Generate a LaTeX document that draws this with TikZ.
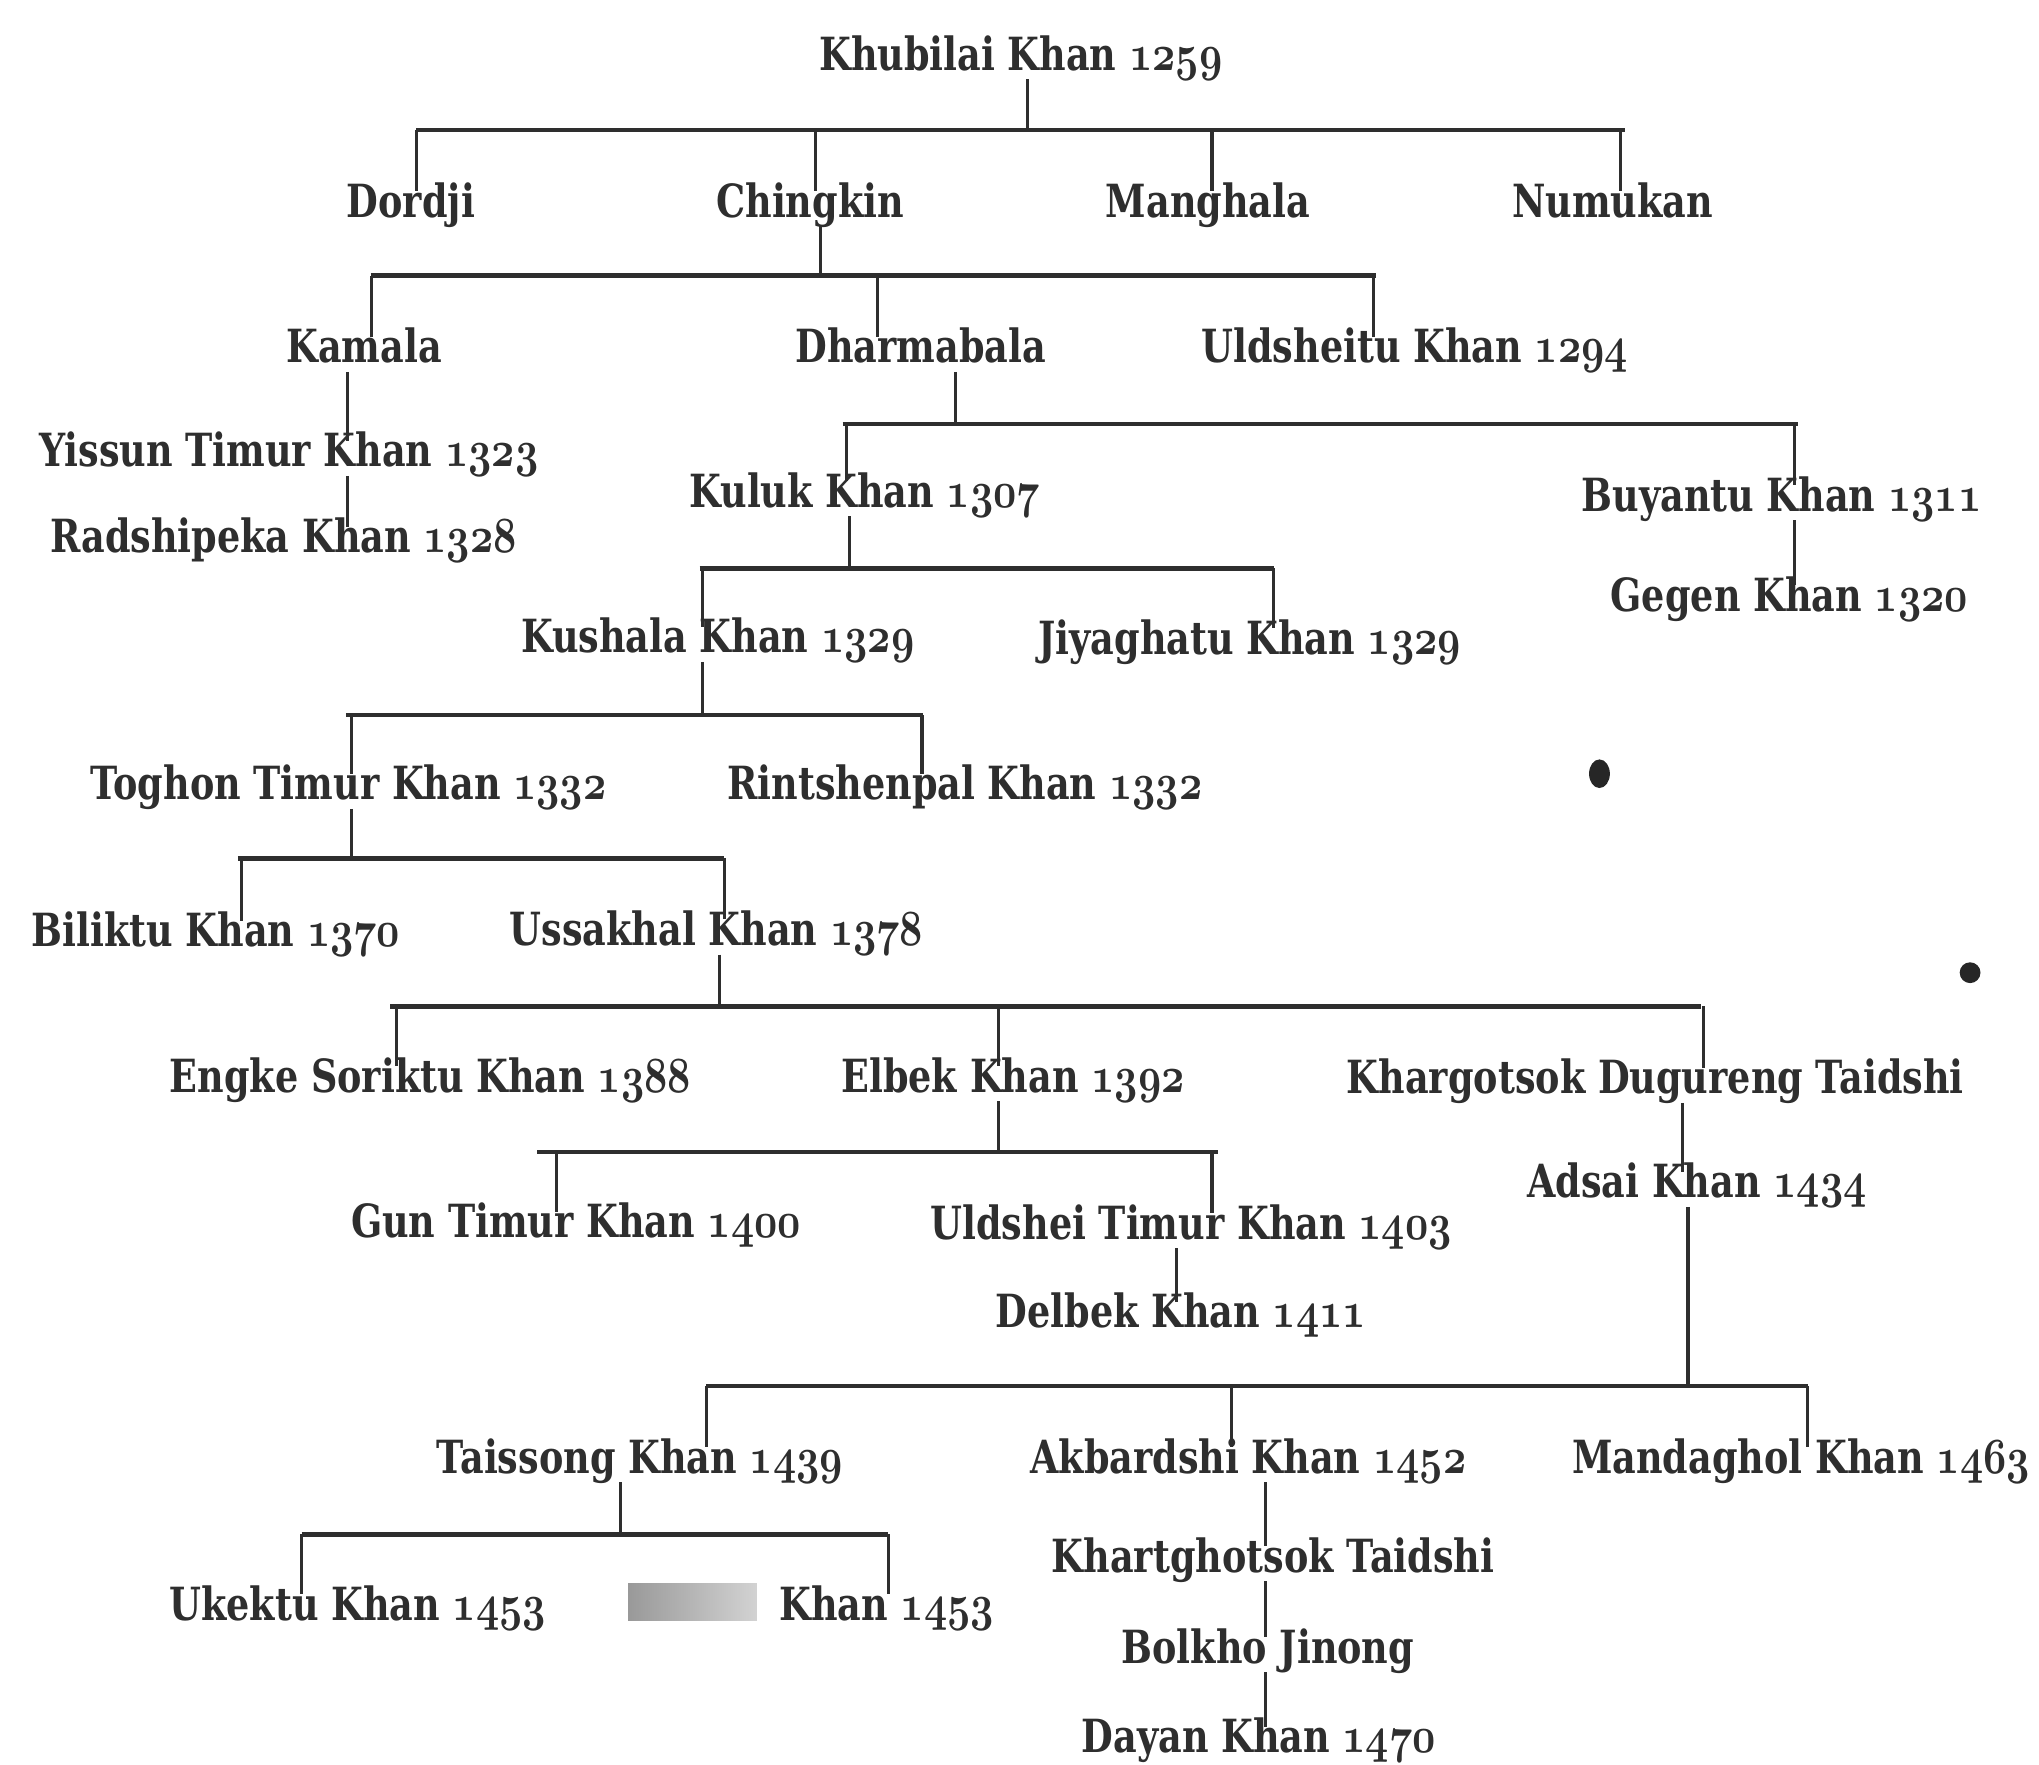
\documentclass[tikz,border=0pt]{standalone}
\usepackage{graphicx}
\usepackage{fontspec}
\setmainfont{DejaVu Serif}
\definecolor{ink}{HTML}{2E2E2E}
\newcommand{\hs}{0.8}
\newcommand{\nm}[1]{\scalebox{\hs}[1]{#1}}
\newcommand{\yr}[1]{{\usefont{OML}{cmm}{b}{it}\fontsize{15.5}{16}\selectfont #1}}
\begin{document}
\begin{tikzpicture}[x=0.013cm,y=-0.013cm,
  person/.style={anchor=base,inner sep=0pt,text=ink,font=\fontsize{13}{15}\selectfont\bfseries,
    text height=0.72em,text depth=0.24em},
  bar/.style={draw=ink,line width=1.3pt},
  tick/.style={draw=ink,line width=0.9pt}]
\useasboundingbox (0,0) rectangle (1568,1357);
% ---------- nodes ----------
\node[person] (kh)  at (785,54)   {\nm{Khubilai Khan \yr{1259}}};
\node[person] (dor) at (316,167)  {\nm{Dordji}};
\node[person] (chi) at (623,167)  {\nm{Chingkin}};
\node[person] (man) at (929,167)  {\nm{Manghala}};
\node[person] (num) at (1240,167) {\nm{Numukan}};
\node[person] (kam) at (280,279)  {\nm{Kamala}};
\node[person] (dha) at (708,279)  {\nm{Dharmabala}};
\node[person] (uld) at (1088,279) {\nm{Uldsheitu Khan \yr{1294}}};
\node[person] (yis) at (222,359)  {\nm{Yissun Timur Khan \yr{1323}}};
\node[person] (rad) at (218,425)  {\nm{Radshipeka Khan \yr{1328}}};
\node[person] (kul) at (665,390)  {\nm{Kuluk Khan \yr{1307}}};
\node[person] (buy) at (1370,393) {\nm{Buyantu Khan \yr{1311}}};
\node[person] (geg) at (1376,470) {\nm{Gegen Khan \yr{1320}}};
\node[person] (kus) at (552,502)  {\nm{Kushala Khan \yr{1329}}};
\node[person] (jiy) at (961,503)  {\nm{Jiyaghatu Khan \yr{1329}}};
\node[person] (tog) at (268,615)  {\nm{Toghon Timur Khan \yr{1332}}};
\node[person] (rin) at (742,615)  {\nm{Rintshenpal Khan \yr{1332}}};
\node[person] (bil) at (166,728)  {\nm{Biliktu Khan \yr{1370}}};
\node[person] (uss) at (551,727)  {\nm{Ussakhal Khan \yr{1378}}};
\node[person] (eng) at (331,840)  {\nm{Engke Soriktu Khan \yr{1388}}};
\node[person] (elb) at (779,840)  {\nm{Elbek Khan \yr{1392}}};
\node[person] (khg) at (1273,841) {\nm{Khargotsok Dugureng Taidshi}};
\node[person] (gun) at (443,952)  {\nm{Gun Timur Khan \yr{1400}}};
\node[person] (uls) at (916,953)  {\nm{Uldshei Timur Khan \yr{1403}}};
\node[person] (del) at (908,1021) {\nm{Delbek Khan \yr{1411}}};
\node[person] (ads) at (1305,921) {\nm{Adsai Khan \yr{1434}}};
\node[person] (tai) at (492,1133) {\nm{Taissong Khan \yr{1439}}};
\node[person] (akb) at (960,1133) {\nm{Akbardshi Khan \yr{1452}}};
\node[person] (mnd) at (1385,1133){\nm{Mandaghol Khan \yr{1463}}};
\node[person] (ukk) at (275,1246) {\nm{Ukektu Khan \yr{1453}}};
\node[person] (kh2) at (682,1246) {\nm{Khan \yr{1453}}};
\node[person] (ktg) at (979,1209) {\nm{Khartghotsok Taidshi}};
\node[person] (bol) at (975,1279) {\nm{Bolkho Jinong}};
\node[person] (day) at (968,1348) {\nm{Dayan Khan \yr{1470}}};
% obscured name
\shade[left color=gray!80,right color=gray!35] (483,1218) rectangle (582,1246);
% ink spots
\fill[black!85] (1230,595) ellipse (8 and 11);
\fill[black!85] (1515,748) ellipse (8 and 8);
% ---------- coordinates ----------
% bar ends
\coordinate (b0l) at (320,100);  \coordinate (b0r) at (1250,100);
\coordinate (b1l) at (285,212);  \coordinate (b1r) at (1058,212);
\coordinate (b2l) at (648,326);  \coordinate (b2r) at (1383,326);
\coordinate (b3l) at (538,437);  \coordinate (b3r) at (980,437);
\coordinate (b4l) at (266,550);  \coordinate (b4r) at (710,550);
\coordinate (b5l) at (183,660);  \coordinate (b5r) at (557,660);
\coordinate (b6l) at (300,774);  \coordinate (b6r) at (1308,774);
\coordinate (b7l) at (413,886);  \coordinate (b7r) at (937,886);
\coordinate (b8l) at (543,1066); \coordinate (b8r) at (1390,1066);
\coordinate (b9l) at (232,1180); \coordinate (b9r) at (683,1180);
% parent drops
\coordinate (d0) at (790,100);
\coordinate (d1) at (631,212);
\coordinate (d2) at (735,326);
\coordinate (d3) at (653,437);
\coordinate (d4) at (540,550);
\coordinate (d5) at (270,660);
\coordinate (d6) at (553,774);
\coordinate (d7) at (768,886);
\coordinate (d8) at (1298,1066);
\coordinate (d9) at (477,1180);
% child tick tops
\coordinate (tdor) at (320,100);  \coordinate (tchi) at (627,100);
\coordinate (tman) at (932,100);  \coordinate (tnum) at (1246,100);
\coordinate (tkam) at (286,212);  \coordinate (tdha) at (675,212);
\coordinate (tuld) at (1056,212);
\coordinate (tkul) at (651,326);  \coordinate (tbuy) at (1380,326);
\coordinate (tkus) at (540,437);  \coordinate (tjiy) at (979,437);
\coordinate (ttog) at (270,550);  \coordinate (trin) at (709,550);
\coordinate (tbil) at (186,660);  \coordinate (tuss) at (557,660);
\coordinate (teng) at (305,774);  \coordinate (telb) at (768,774);
\coordinate (tkhg) at (1310,774);
\coordinate (tgun) at (428,886);  \coordinate (tuls) at (932,886);
\coordinate (ttai) at (543,1066); \coordinate (takb) at (947,1066);
\coordinate (tmnd) at (1390,1066);
\coordinate (tukk) at (232,1180); \coordinate (tkh2) at (683,1180);
% single-line descents
\coordinate (xk) at (267,0);
\coordinate (xb) at (1380,0);
\coordinate (xu) at (905,0);
\coordinate (xa) at (1294,0);
\coordinate (xd) at (973,0);
% ---------- bars ----------
\foreach \i in {0,...,9} \draw[bar] (b\i l) -- (b\i r);
% ---------- parent drops ----------
\draw[tick] (d0 |- kh.south)  -- (d0);
\draw[tick] (d1 |- chi.south) -- (d1);
\draw[tick] (d2 |- dha.south) -- (d2);
\draw[tick] (d3 |- kul.south) -- (d3);
\draw[tick] (d4 |- kus.south) -- (d4);
\draw[tick] (d5 |- tog.south) -- (d5);
\draw[tick] (d6 |- uss.south) -- (d6);
\draw[tick] (d7 |- elb.south) -- (d7);
\draw[bar]  (d8 |- ads.south) -- (d8);
\draw[tick] (d9 |- tai.south) -- (d9);
% ---------- child ticks ----------
\foreach \c in {dor,chi,man,num,kam,dha,uld,kul,buy,kus,jiy,tog,rin,bil,uss,eng,elb,khg,gun,uls,tai,akb,mnd,ukk,kh2}
  \draw[tick] (t\c) -- (t\c |- \c.north);
% ---------- single descents ----------
\draw[tick] (xk |- kam.south) -- (xk |- yis.north);
\draw[tick] (xk |- yis.south) -- (xk |- rad.north);
\draw[tick] (xb |- buy.south) -- (xb |- geg.north);
\draw[tick] (xu |- uls.south) -- (xu |- del.north);
\draw[tick] (xa |- khg.south) -- (xa |- ads.north);
\draw[tick] (xd |- akb.south) -- (xd |- ktg.north);
\draw[tick] (xd |- ktg.south) -- (xd |- bol.north);
\draw[tick] (xd |- bol.south) -- (xd |- day.north);
\end{tikzpicture}
\end{document}
